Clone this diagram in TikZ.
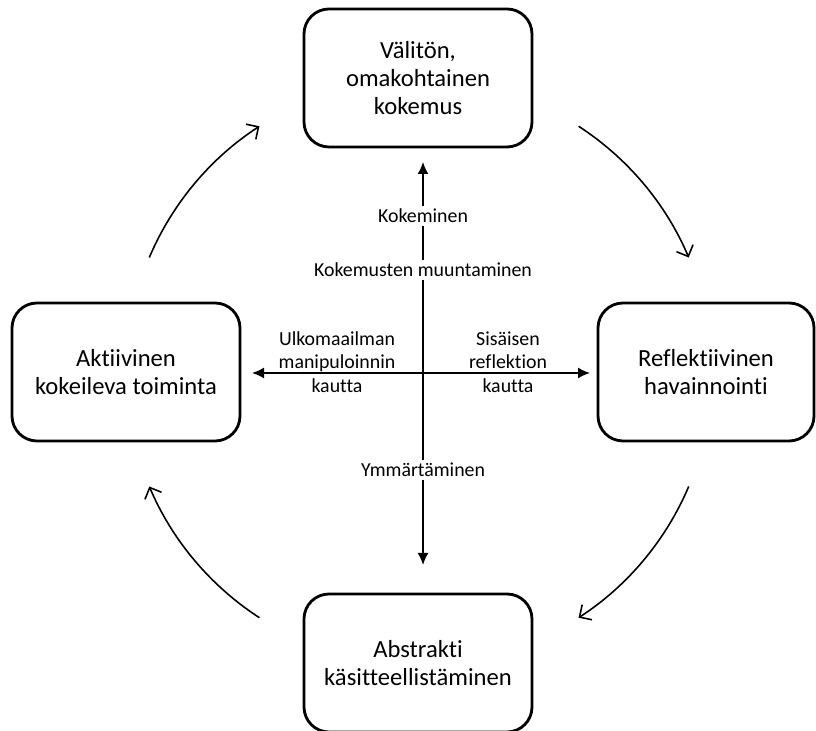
\documentclass[tikz,border=0pt]{standalone}
\usepackage{fontspec}
\setmainfont{Carlito}[Ligatures={NoCommon,NoContextual}]
\usetikzlibrary{arrows.meta}

\tikzset{
  phase/.style={draw, line width=1.6pt, rounded corners=0.5cm, align=center,
    minimum width=4.56cm, minimum height=2.76cm, font=\fontsize{14}{16}\selectfont},
  axislabel/.style={align=center, inner sep=1.5pt, font=\fontsize{11.3}{13.4}\selectfont},
  axisarrow/.style={line width=0.9pt, -{Latex[length=2.4mm,width=2.2mm]}},
  cyclearrow/.style={line width=0.9pt, -{Straight Barb[length=1.8mm,width=3.6mm]}}
}

\begin{document}
\begin{tikzpicture}
  \useasboundingbox (0,0) rectangle (16.32,14.62);

  % four phases of the cycle
  \node[phase] (experience) at (8.36,13.06) {Välitön,\\omakohtainen\\kokemus};
  \node[phase, minimum width=4.32cm] (reflection) at (14.12,7.18) {Reflektiivinen\\havainnointi};
  \node[phase] (abstraction) at (8.36,1.36) {Abstrakti\\käsitteellistäminen};
  \node[phase] (action) at (2.52,7.18) {Aktiivinen\\kokeileva toiminta};

  % vertical axis
  \coordinate (uptip) at (8.46,11.38);
  \coordinate (downtip) at (8.46,3.32);
  \node[axislabel] (perceive) at (8.46,10.3) {Kokeminen};
  \node[axislabel] (transform) at (8.46,9.22) {Kokemusten muuntaminen};
  \node[axislabel] (grasp) at (8.46,5.22) {Ymmärtäminen};
  \draw[axisarrow] (perceive) -- (uptip);
  \draw[line width=0.9pt] (perceive) -- (transform);
  \draw[line width=0.9pt] (transform) -- (grasp);
  \draw[axisarrow] (grasp) -- (downtip);

  % horizontal axis
  \coordinate (lefttip) at (5.04,7.16);
  \coordinate (righttip) at (11.8,7.16);
  \draw[axisarrow, {Latex[length=2.4mm,width=2.2mm]}-{Latex[length=2.4mm,width=2.2mm]}] (lefttip) -- (righttip);
  \node[axislabel] (extension) at (6.74,7.38) {Ulkomaailman\\manipuloinnin\\kautta};
  \node[axislabel] (intension) at (10.16,7.38) {Sisäisen\\reflektion\\kautta};

  % cycle arrows
  \coordinate (hub) at (8.38,7.18);
  \foreach \a in {157,57,-23,-123}
    \draw[cyclearrow] ([shift={(\a:5.86)}]hub) arc[start angle=\a, delta angle=-34, radius=5.86];
\end{tikzpicture}
\end{document}
